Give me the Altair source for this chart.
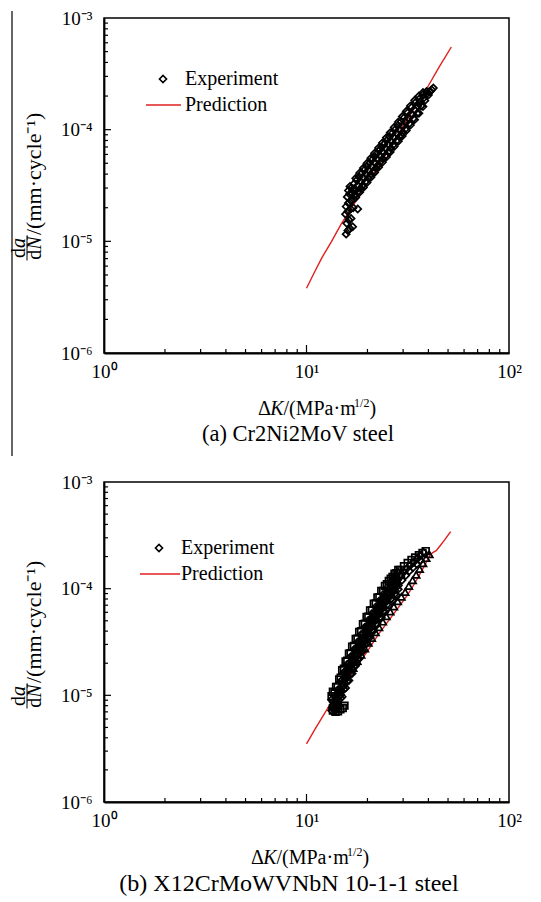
import altair as alt
import pandas as pd

FONT = "Liberation Serif"
RED = "#e0201e"

# ---------------- data: panel (a) Cr2Ni2MoV ----------------
a_exp_K = [15.7, 16.0, 16.4, 16.9, 15.8, 16.2, 16.6, 15.6, 16.0, 16.5, 17.0, 17.9, 15.7, 16.1, 16.6,
           17.1, 15.9, 16.3, 16.8, 17.3, 16.1, 16.6, 17.0, 17.5, 16.4,
           17.2, 17.4, 17.7, 18.0, 18.2, 18.5, 18.8, 19.0, 19.3, 19.6, 19.9, 20.2, 20.5, 20.8, 21.1,
           21.4, 21.7, 22.0, 22.3, 22.6, 22.9, 23.2, 23.5, 23.8, 24.1, 24.5, 24.9, 25.3, 25.7, 26.1,
           26.5, 26.9, 27.3, 27.8, 28.3, 28.8, 29.3, 29.3, 29.8, 30.4, 31.0, 31.6, 32.3, 33.0, 33.7,
           34.4, 35.2, 36.0, 36.8, 37.6, 38.4, 39.2, 40.0, 40.8, 41.5, 42.3,
           17.3, 17.9, 18.5, 19.1, 19.7, 20.3, 21.0, 21.7, 22.4, 23.1, 23.8, 24.6, 25.4, 26.2, 27.0,
           27.9, 28.8, 29.8, 30.8, 31.9, 33.0, 34.2, 35.4, 36.6, 37.9, 39.2, 40.5,
           17.5, 18.3, 19.1, 19.9, 20.8, 21.7, 22.7, 23.7, 24.8, 25.9, 27.1, 28.4, 29.7, 31.1, 32.6,
           34.2, 35.9, 37.6,
           17.5, 18.3, 19.1, 19.9, 20.8, 21.7, 22.7, 23.7, 24.8, 25.9, 27.1, 28.4, 29.7, 31.1, 32.6,
           34.2, 35.9, 37.6]
a_exp_v_e5 = [1.16, 1.25, 1.30, 1.35, 1.45, 1.55, 1.60, 1.75, 1.85, 1.95, 2.00, 1.95, 2.05, 2.20, 2.30,
              2.40, 2.50, 2.65, 2.70, 2.60, 2.85, 3.00, 2.95, 2.85, 3.10,
              3.29, 2.58, 3.53, 2.81, 3.77, 2.99, 4.08, 3.19, 4.35, 3.43, 4.68, 3.69, 5.02, 3.96, 5.38,
              4.24, 5.75, 4.53, 6.13, 4.83, 6.54, 5.15, 6.97, 5.48, 7.39, 5.87, 8.00, 6.34, 8.63, 6.83,
              9.29, 7.35, 9.97, 7.95, 10.9, 8.65, 11.8, 8.90, 9.40, 12.9, 10.3, 14.2, 11.4, 15.8, 12.6,
              17.4, 14.0, 18.8, 16.3, 20.6, 18.2, 22.0, 20.4, 22.0, 22.8, 23.6,
              2.93, 3.18, 3.44, 3.71, 4.00, 4.30, 4.66, 5.05, 5.44, 5.86, 6.30, 6.82, 7.36, 7.93, 8.52,
              9.22, 9.95, 10.8, 11.7, 12.7, 13.8, 15.0, 16.3, 17.7, 19.2, 20.9, 22.0,
              3.67, 4.09, 4.53, 5.00, 5.56, 6.16, 6.86, 7.60, 8.48, 9.41, 10.5, 11.7, 13.1, 14.6, 16.3,
              18.3, 20.0, 21.5,
              2.47, 2.75, 3.04, 3.36, 3.74, 4.14, 4.61, 5.11, 5.70, 6.32, 7.05, 7.89, 8.77, 9.84, 11.0,
              12.3, 14.0, 16.1]
a_pred_K = [10.0, 10.9, 11.9, 13.3, 14.8, 17.0, 20.0, 24.0, 28.0, 33.0, 39.9, 45.0, 51.9]
a_pred_v = [3.8e-6, 5.2e-6, 7.1e-6, 1.0e-5, 1.42e-5, 2.1e-5, 3.3e-5, 5.6e-5, 8.8e-5, 1.42e-4,
            2.46e-4, 3.6e-4, 5.5e-4]

# ---------------- data: panel (b) X12CrMoWVNbN 10-1-1 ----------------
b_dia_K = [13.4, 13.8, 14.2, 14.6, 15.0, 15.4, 15.8, 16.3, 16.8, 17.3, 17.8, 18.4, 19.0, 19.6, 20.2,
           20.9, 21.6, 22.3, 23.0, 23.8, 24.6, 25.4, 26.3, 27.2, 28.2, 29.2, 30.3, 31.4, 32.6, 33.8,
           35.1, 36.4, 37.8,
           13.3, 13.75, 14.25, 14.75, 15.3, 15.9, 16.5, 17.15, 17.85, 18.6, 19.4, 20.2, 21.05, 21.95,
           22.9, 23.9, 24.95, 26.05, 27.2, 28.4,
           13.5, 14.0, 14.5, 15.0, 15.6, 16.2, 16.8, 17.5, 18.2, 19.0, 19.8, 20.6, 21.5, 22.4, 23.4,
           24.4, 25.5, 26.6, 27.8,
           13.3, 13.75, 14.25, 14.75, 15.3, 15.9, 16.5, 17.15, 17.85, 18.6, 19.4, 20.2, 21.05, 21.95,
           22.9, 23.9, 24.95, 26.05, 27.2, 28.4,
           14.5, 15.0, 15.6, 16.2, 16.8, 17.5, 18.2, 19.0, 19.8, 20.6, 21.5, 22.4, 23.4, 24.4, 25.5,
           26.6, 27.8,
           29.6, 30.9, 32.2, 33.6, 35.0, 36.5,
           13.5, 14.0, 14.5, 15.0, 15.6, 16.2, 16.8, 17.5, 18.2, 19.0, 19.8, 20.6, 21.5, 22.4, 23.4,
           24.4, 25.5, 26.6, 27.8,
           14.25, 14.75, 15.3, 15.9, 16.5, 17.15, 17.85, 18.6, 19.4, 20.2, 21.05, 21.95, 22.9, 23.9,
           24.95, 26.05, 27.2, 28.4,
           13.5, 14.0, 14.5, 15.0, 15.6, 16.2, 16.8, 17.5, 18.2, 19.0, 19.8, 20.6, 21.5, 22.4, 23.4,
           24.4, 25.5, 26.6, 27.8]
b_dia_v_e5 = [0.77, 0.85, 0.94, 1.10, 1.29, 1.47, 1.65, 1.88, 2.13, 2.41, 2.69, 3.06, 3.47, 3.90, 4.36,
              4.91, 5.49, 6.09, 6.72, 7.53, 8.40, 9.24, 10.1, 11.0, 12.1, 13.1, 14.3, 15.5, 16.6, 17.7,
              19.0, 20.4, 21.9,
              0.91, 0.99, 1.12, 1.35, 1.65, 1.96, 2.30, 2.69, 3.16, 3.71, 4.36, 5.06, 5.84, 6.73,
              7.70, 8.84, 10.2, 11.5, 12.8, 14.3,
              0.81, 0.90, 1.05, 1.29, 1.56, 1.84, 2.13, 2.52, 2.93, 3.47, 4.05, 4.67, 5.40, 6.18, 7.11,
              8.12, 9.30, 10.4, 11.6,
              0.72, 0.74, 0.83, 1.01, 1.23, 1.46, 1.72, 2.01, 2.36, 2.76, 3.25, 3.77, 4.36, 5.02,
              5.74, 6.60, 7.61, 8.58, 9.55, 10.7,
              0.79, 0.97, 1.17, 1.38, 1.60, 1.89, 2.20, 2.60, 3.04, 3.50, 4.05, 4.64, 5.33, 6.09, 6.97,
              7.81, 8.74,
              12.0, 13.3, 14.6, 15.8, 17.0, 18.4,
              0.87, 0.97, 1.14, 1.39, 1.68, 1.98, 2.30, 2.72, 3.17, 3.75, 4.38, 5.05, 5.83, 6.68, 7.68,
              8.77, 10.0, 11.3, 12.6,
              0.77, 0.94, 1.14, 1.36, 1.59, 1.86, 2.19, 2.57, 3.02, 3.50, 4.04, 4.66, 5.33, 6.12,
              7.07, 7.97, 8.87, 9.90,
              0.75, 0.83, 0.98, 1.20, 1.45, 1.71, 1.98, 2.34, 2.72, 3.22, 3.76, 4.34, 5.01, 5.74, 6.60,
              7.54, 8.63, 9.67, 10.8]
b_sq_K = [13.5, 13.9, 14.3, 14.7, 15.1, 15.4,
          13.5, 14.0, 14.5, 15.0, 15.6, 16.2, 16.8, 17.5, 18.2, 19.0, 19.8, 20.6, 21.5, 22.4, 23.4,
          24.4, 25.5, 26.6, 27.8, 29.0, 30.3, 31.6, 33.0, 34.4, 35.9, 37.4, 38.8,
          13.3, 13.75, 14.25, 14.75, 15.3, 15.9, 16.5, 17.15, 17.85, 18.6, 19.4, 20.2, 21.05, 21.95,
          22.9, 23.9, 24.95, 26.05, 27.2, 28.4]
b_sq_v_e5 = [0.72, 0.70, 0.71, 0.74, 0.76, 0.80,
             1.08, 1.20, 1.41, 1.72, 2.08, 2.46, 2.85, 3.37, 3.93, 4.65, 5.43, 6.25, 7.23, 8.28, 9.53,
             10.6, 11.8, 12.9, 14.0, 15.0, 16.2, 17.4, 18.6, 19.6, 20.6, 21.6, 22.5,
             0.98, 1.06, 1.20, 1.46, 1.78, 2.11, 2.48, 2.90, 3.40, 3.99, 4.69, 5.45, 6.29, 7.25,
             8.29, 9.52, 11.0, 12.4, 13.8, 15.0]
b_tri_K = [17.0, 17.8, 18.6, 19.4, 20.2, 21.0, 21.9, 22.8, 23.8, 24.8, 25.9, 27.0, 28.2, 29.4, 30.7,
           32.0, 33.4, 34.8, 36.2, 37.6, 39.0, 40.4]
b_tri_v_e5 = [1.80, 2.10, 2.40, 2.75, 3.10, 3.45, 3.90, 4.35, 4.90, 5.50, 6.10, 6.80, 7.60, 8.40, 9.30,
              10.6, 12.0, 13.5, 15.3, 17.3, 19.3, 21.0]
b_pred_K = [10.0, 11.0, 12.8, 14.0, 16.0, 18.0, 20.0, 22.7, 26.0, 29.0, 31.4, 34.0, 36.3, 38.5, 40.6,
            42.0, 43.7, 45.5, 48.0, 51.5]
b_pred_v = [3.5e-6, 4.8e-6, 7.7e-6, 1.0e-5, 1.4e-5, 1.95e-5, 2.6e-5, 3.75e-5, 5.3e-5, 7.0e-5, 8.6e-5,
            1.1e-4, 1.37e-4, 1.68e-4, 2.04e-4, 2.18e-4, 2.27e-4, 2.5e-4, 2.85e-4, 3.42e-4]

# ---------------- axes / text ----------------
x_major = [1, 10, 100]
x_minor = [2, 3, 4, 5, 6, 7, 8, 9, 20, 30, 40, 50, 60, 70, 80, 90]
y_major = [1e-6, 1e-5, 1e-4, 1e-3]
y_minor = [m * 10.0 ** e for e in (-6, -5, -4) for m in (2, 3, 4, 5, 6, 7, 8, 9)]
legend_labels = ["Experiment", "Prediction"]
xtitle_parts = ["Δ", "K", "/(MPa·m", "1/2", ")"]
ytitle_parts = ["d", "a", "d", "N", "/(mm·cycle⁻¹)"]
captions = ["(a) Cr2Ni2MoV steel", "(b) X12CrMoWVNbN 10-1-1 steel"]

W = 405
xscale = alt.Scale(type="log", domain=[1, 100], nice=False)
yscale = alt.Scale(type="log", domain=[1e-6, 1e-3], nice=False)

xlabel_expr = "datum.value < 5 ? '10⁰' : datum.value < 50 ? '10¹' : '10²'"
ylabel_expr = ("datum.value < 5e-6 ? '10⁻⁶' : datum.value < 5e-5 ? '10⁻⁵' : "
               "datum.value < 5e-4 ? '10⁻⁴' : '10⁻³'")

XAXIS = alt.Axis(values=x_major, labelExpr=xlabel_expr, ticks=False, grid=False, title=None,
                 labelFont=FONT, labelFontSize=19, labelColor="black", labelPadding=9,
                 labelFlush=False, labelOverlap=False, domainColor="black", domainWidth=1.8)
YAXIS = alt.Axis(values=y_major, labelExpr=ylabel_expr, ticks=False, grid=False, title=None,
                 labelFont=FONT, labelFontSize=19, labelColor="black", labelPadding=12,
                 labelFlush=False, labelOverlap=False, domainColor="black", domainWidth=1.8)


def X(field):
    return alt.X(field, scale=xscale, axis=XAXIS)


def Y(field):
    return alt.Y(field, scale=yscale, axis=YAXIS)


def txt(s, x, y, size, angle=0, style="normal", align="left", baseline="alphabetic"):
    kw = dict(font=FONT, fontSize=size, fontStyle=style, align=align, baseline=baseline,
              color="black")
    if angle:
        kw["angle"] = angle
    return alt.Chart(pd.DataFrame({"s": [s]})).mark_text(**kw).encode(
        x=alt.value(x), y=alt.value(y), text="s:N")


def panel(H, exp_sets, pred_K, pred_v, caption, lay, artifact=False):
    layers = [alt.Chart(pd.DataFrame({"K": pred_K, "v": pred_v})).mark_line(
        color=RED, strokeWidth=1.4).encode(x=X("K:Q"), y=Y("v:Q"), order="K:Q")]
    for K, v, shape, size in exp_sets:
        layers.append(alt.Chart(pd.DataFrame({"K": K, "v": [u * 1e-5 for u in v]})).mark_point(
            shape=shape, filled=False, color="black", size=size, strokeWidth=1.7, opacity=1).encode(
            x=X("K:Q"), y=Y("v:Q")))
    # inward ticks
    for vals, ln in ((x_minor, 4), ([10], 8)):
        layers.append(alt.Chart(pd.DataFrame({"t": vals})).mark_rule(
            color="black", strokeWidth=1.2).encode(
            x=X("t:Q"), y=alt.value(H), y2=alt.value(H - ln)))
    for vals, ln in ((y_minor, 4), ([1e-5, 1e-4], 7)):
        layers.append(alt.Chart(pd.DataFrame({"t": vals})).mark_rule(
            color="black", strokeWidth=1.2).encode(
            y=Y("t:Q"), x=alt.value(0), x2=alt.value(ln)))
    # legend
    lx, ly = lay["leg"]
    layers.append(alt.Chart(pd.DataFrame({"s": [legend_labels[0]]})).mark_point(
        shape="diamond", filled=False, color="black", size=50, strokeWidth=1.6, opacity=1).encode(
        x=alt.value(lx), y=alt.value(ly)))
    layers.append(alt.Chart(pd.DataFrame({"s": [legend_labels[1]]})).mark_rule(
        color=RED, strokeWidth=1.4).encode(
        x=alt.value(lay["line"][0]), x2=alt.value(lay["line"][1]), y=alt.value(ly + 26)))
    layers.append(txt(legend_labels[0], lx + 22, ly, 20, baseline="middle"))
    layers.append(txt(legend_labels[1], lx + 22, ly + 26, 20, baseline="middle"))
    # x title pieces
    tx, ty = lay["xt"]
    offs = [0, 12.2, 25.5, 96.1, 111.4]
    layers.append(txt(xtitle_parts[0], tx + offs[0], ty, 20))
    layers.append(txt(xtitle_parts[1], tx + offs[1], ty, 20, style="italic"))
    layers.append(txt(xtitle_parts[2], tx + offs[2], ty, 20))
    layers.append(txt(xtitle_parts[3], tx + offs[3], ty - 8, 12))
    layers.append(txt(xtitle_parts[4], tx + offs[4], ty, 20))
    # y title pieces (rotated)
    fc = lay["frac"]
    layers.append(txt(ytitle_parts[0], -79, fc + 10, 20, angle=270))
    layers.append(txt(ytitle_parts[1], -79, fc, 20, angle=270, style="italic"))
    layers.append(txt(ytitle_parts[2], -63, fc + 11.7, 20, angle=270))
    layers.append(txt(ytitle_parts[3], -63, fc + 1.7, 20, angle=270, style="italic"))
    layers.append(alt.Chart(pd.DataFrame({"s": ["bar"]})).mark_rule(
        color="black", strokeWidth=1).encode(
        x=alt.value(-77), y=alt.value(fc - 12.5), y2=alt.value(fc + 12.5)))
    layers.append(txt(ytitle_parts[4], -63, fc - 13, 22, angle=270))
    # caption
    layers.append(txt(caption, lay["cap"][0], lay["cap"][1], lay["cap"][2], align="center"))
    if artifact:
        layers.append(alt.Chart(pd.DataFrame({"s": ["edge"]})).mark_rule(
            color="black", strokeWidth=1.2).encode(
            x=alt.value(-92), y=alt.value(-7), y2=alt.value(438)))
    return alt.layer(*layers).properties(width=W, height=H)


pa = panel(335, [(a_exp_K, a_exp_v_e5, "diamond", 50)], a_pred_K, a_pred_v, captions[0],
           dict(leg=(59, 61), line=(42, 77), xt=(154, 397), frac=230, cap=(194, 423, 22.5)),
           artifact=True)
pb = panel(320, [(b_dia_K, b_dia_v_e5, "diamond", 50), (b_sq_K, b_sq_v_e5, "square", 45),
                 (b_tri_K, b_tri_v_e5, "triangle-up", 50)], b_pred_K, b_pred_v, captions[1],
           dict(leg=(55, 66), line=(36, 76), xt=(147, 382), frac=214, cap=(185, 409, 24)))

chart = alt.vconcat(pa, pb, spacing=14).properties(
    padding={"left": 0, "top": 0, "right": 0, "bottom": 0}, background="white"
).configure_view(stroke="black", strokeWidth=1.5)

chart.save("out.html", embed_options={"renderer": "svg", "actions": False})
